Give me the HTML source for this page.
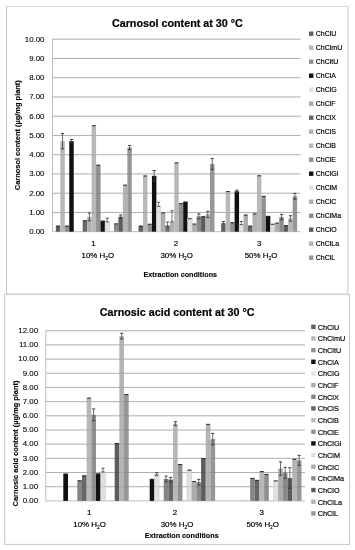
<!DOCTYPE html>
<html><head><meta charset="utf-8"><style>
html,body{margin:0;padding:0;background:#fff;}
body{width:355px;height:550px;overflow:hidden;}
svg{display:block;font-family:'Liberation Sans',sans-serif;will-change:transform;-webkit-font-smoothing:antialiased;}
</style></head><body>
<svg width="355" height="550" viewBox="0 0 355 550" style="font-family:'Liberation Sans',sans-serif">
<rect width="355" height="550" fill="#fff"/>
<line x1="6.5" y1="6.5" x2="347.9" y2="6.5" stroke="#d8d8d8" stroke-width="1"/>
<line x1="6.5" y1="6.0" x2="6.5" y2="294.5" stroke="#c6c6c6" stroke-width="1"/>
<line x1="347.9" y1="6.0" x2="347.9" y2="294.5" stroke="#c6c6c6" stroke-width="1"/>
<line x1="6.5" y1="294.0" x2="347.9" y2="294.0" stroke="#c6c6c6" stroke-width="1"/>
<line x1="4.7" y1="294.6" x2="349.5" y2="294.6" stroke="#d0d0d0" stroke-width="1"/>
<line x1="4.7" y1="294.1" x2="4.7" y2="544.9" stroke="#c6c6c6" stroke-width="1"/>
<line x1="349.5" y1="294.1" x2="349.5" y2="544.9" stroke="#c6c6c6" stroke-width="1"/>
<line x1="4.7" y1="544.4" x2="349.5" y2="544.4" stroke="#c6c6c6" stroke-width="1"/>
<line x1="52.50" y1="231.70" x2="300.50" y2="231.70" stroke="#bdbdbd" stroke-width="1"/>
<text x="44.50" y="234.00" text-anchor="end" font-size="7.9" fill="#000" stroke="#000" stroke-width="0.08">0.00</text>
<line x1="52.50" y1="212.45" x2="300.50" y2="212.45" stroke="#bdbdbd" stroke-width="1"/>
<text x="44.50" y="214.75" text-anchor="end" font-size="7.9" fill="#000" stroke="#000" stroke-width="0.08">1.00</text>
<line x1="52.50" y1="193.20" x2="300.50" y2="193.20" stroke="#bdbdbd" stroke-width="1"/>
<text x="44.50" y="195.50" text-anchor="end" font-size="7.9" fill="#000" stroke="#000" stroke-width="0.08">2.00</text>
<line x1="52.50" y1="173.95" x2="300.50" y2="173.95" stroke="#bdbdbd" stroke-width="1"/>
<text x="44.50" y="176.25" text-anchor="end" font-size="7.9" fill="#000" stroke="#000" stroke-width="0.08">3.00</text>
<line x1="52.50" y1="154.70" x2="300.50" y2="154.70" stroke="#bdbdbd" stroke-width="1"/>
<text x="44.50" y="157.00" text-anchor="end" font-size="7.9" fill="#000" stroke="#000" stroke-width="0.08">4.00</text>
<line x1="52.50" y1="135.45" x2="300.50" y2="135.45" stroke="#bdbdbd" stroke-width="1"/>
<text x="44.50" y="137.75" text-anchor="end" font-size="7.9" fill="#000" stroke="#000" stroke-width="0.08">5.00</text>
<line x1="52.50" y1="116.20" x2="300.50" y2="116.20" stroke="#bdbdbd" stroke-width="1"/>
<text x="44.50" y="118.50" text-anchor="end" font-size="7.9" fill="#000" stroke="#000" stroke-width="0.08">6.00</text>
<line x1="52.50" y1="96.95" x2="300.50" y2="96.95" stroke="#bdbdbd" stroke-width="1"/>
<text x="44.50" y="99.25" text-anchor="end" font-size="7.9" fill="#000" stroke="#000" stroke-width="0.08">7.00</text>
<line x1="52.50" y1="77.70" x2="300.50" y2="77.70" stroke="#bdbdbd" stroke-width="1"/>
<text x="44.50" y="80.00" text-anchor="end" font-size="7.9" fill="#000" stroke="#000" stroke-width="0.08">8.00</text>
<line x1="52.50" y1="58.45" x2="300.50" y2="58.45" stroke="#bdbdbd" stroke-width="1"/>
<text x="44.50" y="60.75" text-anchor="end" font-size="7.9" fill="#000" stroke="#000" stroke-width="0.08">9.00</text>
<line x1="52.50" y1="39.20" x2="300.50" y2="39.20" stroke="#bdbdbd" stroke-width="1"/>
<text x="44.50" y="41.50" text-anchor="end" font-size="7.9" fill="#000" stroke="#000" stroke-width="0.08">10.00</text>
<line x1="52.50" y1="39.20" x2="52.50" y2="231.70" stroke="#bdbdbd" stroke-width="1"/>
<rect x="55.85" y="225.73" width="4.47" height="5.97" fill="#5f5f5f"/>
<rect x="60.32" y="141.22" width="4.47" height="90.48" fill="#b8b8b8"/>
<rect x="64.79" y="225.73" width="4.47" height="5.97" fill="#8f8f8f"/>
<rect x="69.26" y="141.22" width="4.47" height="90.48" fill="#111111"/>
<rect x="82.66" y="220.34" width="4.47" height="11.36" fill="#666666"/>
<rect x="87.13" y="216.88" width="4.47" height="14.82" fill="#b0b0b0"/>
<rect x="91.60" y="125.25" width="4.47" height="106.45" fill="#b8b8b8"/>
<rect x="96.07" y="164.71" width="4.47" height="66.99" fill="#909090"/>
<rect x="100.54" y="220.73" width="4.47" height="10.97" fill="#111111"/>
<rect x="105.00" y="221.88" width="4.47" height="9.82" fill="#e0e0e0" stroke="#c6c6c6" stroke-width="0.5"/>
<rect x="113.94" y="223.42" width="4.47" height="8.28" fill="#8a8a8a"/>
<rect x="118.41" y="216.69" width="4.47" height="15.02" fill="#5c5c5c"/>
<rect x="122.88" y="184.73" width="4.47" height="46.97" fill="#b4b4b4"/>
<rect x="127.35" y="147.58" width="4.47" height="84.12" fill="#979797"/>
<rect x="138.52" y="225.73" width="4.47" height="5.97" fill="#5f5f5f"/>
<rect x="142.99" y="175.49" width="4.47" height="56.21" fill="#b8b8b8"/>
<rect x="147.45" y="223.81" width="4.47" height="7.89" fill="#8f8f8f"/>
<rect x="151.92" y="175.88" width="4.47" height="55.82" fill="#111111"/>
<rect x="156.39" y="206.48" width="4.47" height="25.22" fill="#e2e2e2" stroke="#c6c6c6" stroke-width="0.5"/>
<rect x="160.86" y="212.45" width="4.47" height="19.25" fill="#ababab"/>
<rect x="165.33" y="225.92" width="4.47" height="5.77" fill="#666666"/>
<rect x="169.80" y="221.69" width="4.47" height="10.01" fill="#b0b0b0"/>
<rect x="174.27" y="162.40" width="4.47" height="69.30" fill="#b8b8b8"/>
<rect x="178.73" y="203.21" width="4.47" height="28.49" fill="#909090"/>
<rect x="183.20" y="201.67" width="4.47" height="30.03" fill="#111111"/>
<rect x="187.67" y="218.22" width="4.47" height="13.47" fill="#e0e0e0" stroke="#c6c6c6" stroke-width="0.5"/>
<rect x="192.14" y="223.61" width="4.47" height="8.08" fill="#acacac"/>
<rect x="196.61" y="216.30" width="4.47" height="15.40" fill="#8a8a8a"/>
<rect x="201.08" y="216.30" width="4.47" height="15.40" fill="#5c5c5c"/>
<rect x="205.55" y="214.38" width="4.47" height="17.32" fill="#b4b4b4"/>
<rect x="210.01" y="163.94" width="4.47" height="67.76" fill="#979797"/>
<rect x="221.18" y="223.42" width="4.47" height="8.28" fill="#5f5f5f"/>
<rect x="225.65" y="191.08" width="4.47" height="40.62" fill="#b8b8b8"/>
<rect x="230.12" y="222.27" width="4.47" height="9.43" fill="#8f8f8f"/>
<rect x="234.59" y="191.27" width="4.47" height="40.43" fill="#111111"/>
<rect x="239.06" y="224.58" width="4.47" height="7.12" fill="#e2e2e2" stroke="#c6c6c6" stroke-width="0.5"/>
<rect x="243.53" y="214.57" width="4.47" height="17.13" fill="#ababab"/>
<rect x="248.00" y="225.73" width="4.47" height="5.97" fill="#666666"/>
<rect x="252.46" y="213.41" width="4.47" height="18.29" fill="#b0b0b0"/>
<rect x="256.93" y="175.30" width="4.47" height="56.40" fill="#b8b8b8"/>
<rect x="261.40" y="195.89" width="4.47" height="35.80" fill="#909090"/>
<rect x="265.87" y="215.91" width="4.47" height="15.78" fill="#111111"/>
<rect x="270.34" y="223.81" width="4.47" height="7.89" fill="#e0e0e0" stroke="#c6c6c6" stroke-width="0.5"/>
<rect x="274.81" y="222.65" width="4.47" height="9.05" fill="#acacac"/>
<rect x="279.27" y="217.07" width="4.47" height="14.63" fill="#8a8a8a"/>
<rect x="283.74" y="225.16" width="4.47" height="6.55" fill="#5c5c5c"/>
<rect x="288.21" y="218.42" width="4.47" height="13.28" fill="#b4b4b4"/>
<rect x="292.68" y="196.28" width="4.47" height="35.42" fill="#979797"/>
<line x1="52.50" y1="212.45" x2="300.50" y2="212.45" stroke="#000" stroke-opacity="0.07" stroke-width="1"/>
<line x1="52.50" y1="193.20" x2="300.50" y2="193.20" stroke="#000" stroke-opacity="0.07" stroke-width="1"/>
<line x1="52.50" y1="173.95" x2="300.50" y2="173.95" stroke="#000" stroke-opacity="0.07" stroke-width="1"/>
<line x1="52.50" y1="154.70" x2="300.50" y2="154.70" stroke="#000" stroke-opacity="0.07" stroke-width="1"/>
<line x1="52.50" y1="135.45" x2="300.50" y2="135.45" stroke="#000" stroke-opacity="0.07" stroke-width="1"/>
<line x1="52.50" y1="116.20" x2="300.50" y2="116.20" stroke="#000" stroke-opacity="0.07" stroke-width="1"/>
<line x1="52.50" y1="96.95" x2="300.50" y2="96.95" stroke="#000" stroke-opacity="0.07" stroke-width="1"/>
<line x1="52.50" y1="77.70" x2="300.50" y2="77.70" stroke="#000" stroke-opacity="0.07" stroke-width="1"/>
<line x1="52.50" y1="58.45" x2="300.50" y2="58.45" stroke="#000" stroke-opacity="0.07" stroke-width="1"/>
<line x1="52.50" y1="39.20" x2="300.50" y2="39.20" stroke="#000" stroke-opacity="0.07" stroke-width="1"/>
<line x1="56.35" y1="226.23" x2="59.82" y2="226.23" stroke="#2a2a2a" stroke-width="1.0"/>
<line x1="62.55" y1="133.52" x2="62.55" y2="148.92" stroke="#444" stroke-width="0.8"/>
<line x1="60.95" y1="133.52" x2="64.15" y2="133.52" stroke="#333" stroke-width="0.9"/>
<line x1="60.95" y1="148.92" x2="64.15" y2="148.92" stroke="#333" stroke-width="0.9"/>
<line x1="65.29" y1="226.23" x2="68.76" y2="226.23" stroke="#2a2a2a" stroke-width="1.0"/>
<line x1="71.49" y1="139.49" x2="71.49" y2="142.96" stroke="#444" stroke-width="0.8"/>
<line x1="69.89" y1="139.49" x2="73.09" y2="139.49" stroke="#333" stroke-width="0.9"/>
<line x1="69.89" y1="142.96" x2="73.09" y2="142.96" stroke="#333" stroke-width="0.9"/>
<line x1="83.16" y1="220.84" x2="86.63" y2="220.84" stroke="#2a2a2a" stroke-width="1.0"/>
<line x1="89.36" y1="213.03" x2="89.36" y2="220.73" stroke="#444" stroke-width="0.8"/>
<line x1="87.76" y1="213.03" x2="90.96" y2="213.03" stroke="#333" stroke-width="0.9"/>
<line x1="87.76" y1="220.73" x2="90.96" y2="220.73" stroke="#333" stroke-width="0.9"/>
<line x1="92.10" y1="125.75" x2="95.57" y2="125.75" stroke="#2a2a2a" stroke-width="1.0"/>
<line x1="96.57" y1="165.21" x2="100.04" y2="165.21" stroke="#2a2a2a" stroke-width="1.0"/>
<line x1="101.04" y1="221.23" x2="104.50" y2="221.23" stroke="#2a2a2a" stroke-width="1.0"/>
<line x1="107.24" y1="218.22" x2="107.24" y2="221.88" stroke="#555" stroke-width="0.8"/>
<line x1="105.74" y1="218.22" x2="108.74" y2="218.22" stroke="#444" stroke-width="0.9"/>
<line x1="105.74" y1="221.88" x2="108.74" y2="221.88" stroke="#444" stroke-width="0.9"/>
<line x1="114.44" y1="223.92" x2="117.91" y2="223.92" stroke="#2a2a2a" stroke-width="1.0"/>
<line x1="120.64" y1="214.95" x2="120.64" y2="218.42" stroke="#444" stroke-width="0.8"/>
<line x1="119.04" y1="214.95" x2="122.24" y2="214.95" stroke="#333" stroke-width="0.9"/>
<line x1="119.04" y1="218.42" x2="122.24" y2="218.42" stroke="#333" stroke-width="0.9"/>
<line x1="123.38" y1="185.23" x2="126.85" y2="185.23" stroke="#2a2a2a" stroke-width="1.0"/>
<line x1="129.58" y1="145.46" x2="129.58" y2="149.69" stroke="#444" stroke-width="0.8"/>
<line x1="127.98" y1="145.46" x2="131.18" y2="145.46" stroke="#333" stroke-width="0.9"/>
<line x1="127.98" y1="149.69" x2="131.18" y2="149.69" stroke="#333" stroke-width="0.9"/>
<line x1="139.02" y1="226.23" x2="142.49" y2="226.23" stroke="#2a2a2a" stroke-width="1.0"/>
<line x1="143.49" y1="175.99" x2="146.95" y2="175.99" stroke="#2a2a2a" stroke-width="1.0"/>
<line x1="147.95" y1="224.31" x2="151.42" y2="224.31" stroke="#2a2a2a" stroke-width="1.0"/>
<line x1="154.16" y1="170.49" x2="154.16" y2="181.26" stroke="#444" stroke-width="0.8"/>
<line x1="152.56" y1="170.49" x2="155.76" y2="170.49" stroke="#333" stroke-width="0.9"/>
<line x1="152.56" y1="181.26" x2="155.76" y2="181.26" stroke="#333" stroke-width="0.9"/>
<line x1="158.63" y1="202.25" x2="158.63" y2="206.48" stroke="#555" stroke-width="0.8"/>
<line x1="157.13" y1="202.25" x2="160.13" y2="202.25" stroke="#444" stroke-width="0.9"/>
<line x1="157.13" y1="206.48" x2="160.13" y2="206.48" stroke="#444" stroke-width="0.9"/>
<line x1="161.36" y1="212.95" x2="164.83" y2="212.95" stroke="#2a2a2a" stroke-width="1.0"/>
<line x1="167.56" y1="222.07" x2="167.56" y2="225.92" stroke="#555" stroke-width="0.8"/>
<line x1="166.06" y1="222.07" x2="169.06" y2="222.07" stroke="#444" stroke-width="0.9"/>
<line x1="166.06" y1="225.92" x2="169.06" y2="225.92" stroke="#444" stroke-width="0.9"/>
<line x1="172.03" y1="210.72" x2="172.03" y2="221.69" stroke="#555" stroke-width="0.8"/>
<line x1="170.53" y1="210.72" x2="173.53" y2="210.72" stroke="#444" stroke-width="0.9"/>
<line x1="170.53" y1="221.69" x2="173.53" y2="221.69" stroke="#444" stroke-width="0.9"/>
<line x1="174.77" y1="162.90" x2="178.23" y2="162.90" stroke="#2a2a2a" stroke-width="1.0"/>
<line x1="179.23" y1="203.71" x2="182.70" y2="203.71" stroke="#2a2a2a" stroke-width="1.0"/>
<line x1="183.70" y1="202.17" x2="187.17" y2="202.17" stroke="#2a2a2a" stroke-width="1.0"/>
<line x1="188.17" y1="218.72" x2="191.64" y2="218.72" stroke="#2a2a2a" stroke-width="1.0"/>
<line x1="192.64" y1="224.11" x2="196.11" y2="224.11" stroke="#2a2a2a" stroke-width="1.0"/>
<line x1="198.84" y1="213.80" x2="198.84" y2="218.80" stroke="#444" stroke-width="0.8"/>
<line x1="197.24" y1="213.80" x2="200.44" y2="213.80" stroke="#333" stroke-width="0.9"/>
<line x1="197.24" y1="218.80" x2="200.44" y2="218.80" stroke="#333" stroke-width="0.9"/>
<line x1="201.58" y1="216.80" x2="205.05" y2="216.80" stroke="#2a2a2a" stroke-width="1.0"/>
<line x1="207.78" y1="211.29" x2="207.78" y2="217.46" stroke="#444" stroke-width="0.8"/>
<line x1="206.18" y1="211.29" x2="209.38" y2="211.29" stroke="#333" stroke-width="0.9"/>
<line x1="206.18" y1="217.46" x2="209.38" y2="217.46" stroke="#333" stroke-width="0.9"/>
<line x1="212.25" y1="158.55" x2="212.25" y2="169.33" stroke="#444" stroke-width="0.8"/>
<line x1="210.65" y1="158.55" x2="213.85" y2="158.55" stroke="#333" stroke-width="0.9"/>
<line x1="210.65" y1="169.33" x2="213.85" y2="169.33" stroke="#333" stroke-width="0.9"/>
<line x1="223.42" y1="221.50" x2="223.42" y2="223.42" stroke="#555" stroke-width="0.8"/>
<line x1="221.92" y1="221.50" x2="224.92" y2="221.50" stroke="#444" stroke-width="0.9"/>
<line x1="221.92" y1="223.42" x2="224.92" y2="223.42" stroke="#444" stroke-width="0.9"/>
<line x1="226.15" y1="191.58" x2="229.62" y2="191.58" stroke="#2a2a2a" stroke-width="1.0"/>
<line x1="230.62" y1="222.77" x2="234.09" y2="222.77" stroke="#2a2a2a" stroke-width="1.0"/>
<line x1="236.82" y1="190.12" x2="236.82" y2="192.43" stroke="#444" stroke-width="0.8"/>
<line x1="235.22" y1="190.12" x2="238.42" y2="190.12" stroke="#333" stroke-width="0.9"/>
<line x1="235.22" y1="192.43" x2="238.42" y2="192.43" stroke="#333" stroke-width="0.9"/>
<line x1="241.29" y1="221.50" x2="241.29" y2="224.58" stroke="#555" stroke-width="0.8"/>
<line x1="239.79" y1="221.50" x2="242.79" y2="221.50" stroke="#444" stroke-width="0.9"/>
<line x1="239.79" y1="224.58" x2="242.79" y2="224.58" stroke="#444" stroke-width="0.9"/>
<line x1="244.03" y1="215.07" x2="247.50" y2="215.07" stroke="#2a2a2a" stroke-width="1.0"/>
<line x1="248.50" y1="226.23" x2="251.96" y2="226.23" stroke="#2a2a2a" stroke-width="1.0"/>
<line x1="252.96" y1="213.91" x2="256.43" y2="213.91" stroke="#2a2a2a" stroke-width="1.0"/>
<line x1="257.43" y1="175.80" x2="260.90" y2="175.80" stroke="#2a2a2a" stroke-width="1.0"/>
<line x1="261.90" y1="196.39" x2="265.37" y2="196.39" stroke="#2a2a2a" stroke-width="1.0"/>
<line x1="266.37" y1="216.41" x2="269.84" y2="216.41" stroke="#2a2a2a" stroke-width="1.0"/>
<line x1="270.84" y1="224.31" x2="274.31" y2="224.31" stroke="#2a2a2a" stroke-width="1.0"/>
<line x1="275.31" y1="223.15" x2="278.77" y2="223.15" stroke="#2a2a2a" stroke-width="1.0"/>
<line x1="281.51" y1="214.38" x2="281.51" y2="219.76" stroke="#444" stroke-width="0.8"/>
<line x1="279.91" y1="214.38" x2="283.11" y2="214.38" stroke="#333" stroke-width="0.9"/>
<line x1="279.91" y1="219.76" x2="283.11" y2="219.76" stroke="#333" stroke-width="0.9"/>
<line x1="284.24" y1="225.66" x2="287.71" y2="225.66" stroke="#2a2a2a" stroke-width="1.0"/>
<line x1="290.45" y1="215.72" x2="290.45" y2="221.11" stroke="#444" stroke-width="0.8"/>
<line x1="288.85" y1="215.72" x2="292.05" y2="215.72" stroke="#333" stroke-width="0.9"/>
<line x1="288.85" y1="221.11" x2="292.05" y2="221.11" stroke="#333" stroke-width="0.9"/>
<line x1="294.91" y1="193.39" x2="294.91" y2="199.17" stroke="#444" stroke-width="0.8"/>
<line x1="293.31" y1="193.39" x2="296.51" y2="193.39" stroke="#333" stroke-width="0.9"/>
<line x1="293.31" y1="199.17" x2="296.51" y2="199.17" stroke="#333" stroke-width="0.9"/>
<text x="93.50" y="245.50" text-anchor="middle" font-size="7.9" fill="#000" stroke="#000" stroke-width="0.18">1</text>
<text x="97.80" y="258.40" text-anchor="middle" font-size="7.9" fill="#000" stroke="#000" stroke-width="0.18">10% H<tspan font-size="4.90" dy="1.6">2</tspan><tspan dy="-1.6">O</tspan></text>
<text x="176.00" y="245.50" text-anchor="middle" font-size="7.9" fill="#000" stroke="#000" stroke-width="0.18">2</text>
<text x="176.70" y="258.40" text-anchor="middle" font-size="7.9" fill="#000" stroke="#000" stroke-width="0.18">30% H<tspan font-size="4.90" dy="1.6">2</tspan><tspan dy="-1.6">O</tspan></text>
<text x="259.20" y="245.50" text-anchor="middle" font-size="7.9" fill="#000" stroke="#000" stroke-width="0.18">3</text>
<text x="261.00" y="258.40" text-anchor="middle" font-size="7.9" fill="#000" stroke="#000" stroke-width="0.18">50% H<tspan font-size="4.90" dy="1.6">2</tspan><tspan dy="-1.6">O</tspan></text>
<text x="180.30" y="276.90" text-anchor="middle" font-size="7.2" font-weight="bold" fill="#000" stroke="#000" stroke-width="0.1">Extraction conditions</text>
<text x="177.40" y="27.30" text-anchor="middle" font-size="10.75" font-weight="bold" fill="#000" stroke="#000" stroke-width="0.2">Carnosol content at 30 °C</text>
<text transform="translate(20.40,135.20) rotate(-90)" text-anchor="middle" font-size="7.45" font-weight="bold" fill="#000" stroke="#000" stroke-width="0.12">Carnosol content (µg/mg plant)</text>
<rect x="309.00" y="31.50" width="4.4" height="4.4" fill="#5f5f5f"/>
<text x="315.80" y="36.40" font-size="7.5" textLength="20.61" lengthAdjust="spacingAndGlyphs" fill="#000" stroke="#000" stroke-width="0.18">ChClU</text>
<rect x="309.00" y="45.50" width="4.4" height="4.4" fill="#b8b8b8"/>
<text x="315.80" y="50.40" font-size="7.5" textLength="26.45" lengthAdjust="spacingAndGlyphs" fill="#000" stroke="#000" stroke-width="0.18">ChClmU</text>
<rect x="309.00" y="59.50" width="4.4" height="4.4" fill="#8f8f8f"/>
<text x="315.80" y="64.40" font-size="7.5" textLength="22.56" lengthAdjust="spacingAndGlyphs" fill="#000" stroke="#000" stroke-width="0.18">ChCltU</text>
<rect x="309.00" y="73.50" width="4.4" height="4.4" fill="#111111"/>
<text x="315.80" y="78.40" font-size="7.5" textLength="20.23" lengthAdjust="spacingAndGlyphs" fill="#000" stroke="#000" stroke-width="0.18">ChClA</text>
<rect x="309.00" y="87.50" width="4.4" height="4.4" fill="#e2e2e2"/>
<text x="315.80" y="92.40" font-size="7.5" textLength="21.00" lengthAdjust="spacingAndGlyphs" fill="#000" stroke="#000" stroke-width="0.18">ChClG</text>
<rect x="309.00" y="101.50" width="4.4" height="4.4" fill="#ababab"/>
<text x="315.80" y="106.40" font-size="7.5" textLength="19.83" lengthAdjust="spacingAndGlyphs" fill="#000" stroke="#000" stroke-width="0.18">ChClF</text>
<rect x="309.00" y="115.50" width="4.4" height="4.4" fill="#666666"/>
<text x="315.80" y="120.40" font-size="7.5" textLength="20.23" lengthAdjust="spacingAndGlyphs" fill="#000" stroke="#000" stroke-width="0.18">ChClX</text>
<rect x="309.00" y="129.50" width="4.4" height="4.4" fill="#b0b0b0"/>
<text x="315.80" y="134.40" font-size="7.5" textLength="20.23" lengthAdjust="spacingAndGlyphs" fill="#000" stroke="#000" stroke-width="0.18">ChClS</text>
<rect x="309.00" y="143.50" width="4.4" height="4.4" fill="#b8b8b8"/>
<text x="315.80" y="148.40" font-size="7.5" textLength="20.23" lengthAdjust="spacingAndGlyphs" fill="#000" stroke="#000" stroke-width="0.18">ChClB</text>
<rect x="309.00" y="157.50" width="4.4" height="4.4" fill="#909090"/>
<text x="315.80" y="162.40" font-size="7.5" textLength="20.23" lengthAdjust="spacingAndGlyphs" fill="#000" stroke="#000" stroke-width="0.18">ChClE</text>
<rect x="309.00" y="171.50" width="4.4" height="4.4" fill="#111111"/>
<text x="315.80" y="176.40" font-size="7.5" textLength="22.56" lengthAdjust="spacingAndGlyphs" fill="#000" stroke="#000" stroke-width="0.18">ChClGl</text>
<rect x="309.00" y="185.50" width="4.4" height="4.4" fill="#e0e0e0"/>
<text x="315.80" y="190.40" font-size="7.5" textLength="21.39" lengthAdjust="spacingAndGlyphs" fill="#000" stroke="#000" stroke-width="0.18">ChClM</text>
<rect x="309.00" y="199.50" width="4.4" height="4.4" fill="#acacac"/>
<text x="315.80" y="204.40" font-size="7.5" textLength="20.61" lengthAdjust="spacingAndGlyphs" fill="#000" stroke="#000" stroke-width="0.18">ChClC</text>
<rect x="309.00" y="213.50" width="4.4" height="4.4" fill="#8a8a8a"/>
<text x="315.80" y="218.40" font-size="7.5" textLength="25.28" lengthAdjust="spacingAndGlyphs" fill="#000" stroke="#000" stroke-width="0.18">ChClMa</text>
<rect x="309.00" y="227.50" width="4.4" height="4.4" fill="#5c5c5c"/>
<text x="315.80" y="232.40" font-size="7.5" textLength="21.00" lengthAdjust="spacingAndGlyphs" fill="#000" stroke="#000" stroke-width="0.18">ChClO</text>
<rect x="309.00" y="241.50" width="4.4" height="4.4" fill="#b4b4b4"/>
<text x="315.80" y="246.40" font-size="7.5" textLength="23.34" lengthAdjust="spacingAndGlyphs" fill="#000" stroke="#000" stroke-width="0.18">ChClLa</text>
<rect x="309.00" y="255.50" width="4.4" height="4.4" fill="#979797"/>
<text x="315.80" y="260.40" font-size="7.5" textLength="19.45" lengthAdjust="spacingAndGlyphs" fill="#000" stroke="#000" stroke-width="0.18">ChClL</text>
<line x1="45.80" y1="500.90" x2="305.00" y2="500.90" stroke="#bdbdbd" stroke-width="1"/>
<text x="38.10" y="503.20" text-anchor="end" font-size="7.9" fill="#000" stroke="#000" stroke-width="0.08">0.00</text>
<line x1="45.80" y1="486.72" x2="305.00" y2="486.72" stroke="#bdbdbd" stroke-width="1"/>
<text x="38.10" y="489.02" text-anchor="end" font-size="7.9" fill="#000" stroke="#000" stroke-width="0.08">1.00</text>
<line x1="45.80" y1="472.54" x2="305.00" y2="472.54" stroke="#bdbdbd" stroke-width="1"/>
<text x="38.10" y="474.84" text-anchor="end" font-size="7.9" fill="#000" stroke="#000" stroke-width="0.08">2.00</text>
<line x1="45.80" y1="458.36" x2="305.00" y2="458.36" stroke="#bdbdbd" stroke-width="1"/>
<text x="38.10" y="460.66" text-anchor="end" font-size="7.9" fill="#000" stroke="#000" stroke-width="0.08">3.00</text>
<line x1="45.80" y1="444.18" x2="305.00" y2="444.18" stroke="#bdbdbd" stroke-width="1"/>
<text x="38.10" y="446.48" text-anchor="end" font-size="7.9" fill="#000" stroke="#000" stroke-width="0.08">4.00</text>
<line x1="45.80" y1="430.00" x2="305.00" y2="430.00" stroke="#bdbdbd" stroke-width="1"/>
<text x="38.10" y="432.30" text-anchor="end" font-size="7.9" fill="#000" stroke="#000" stroke-width="0.08">5.00</text>
<line x1="45.80" y1="415.82" x2="305.00" y2="415.82" stroke="#bdbdbd" stroke-width="1"/>
<text x="38.10" y="418.12" text-anchor="end" font-size="7.9" fill="#000" stroke="#000" stroke-width="0.08">6.00</text>
<line x1="45.80" y1="401.64" x2="305.00" y2="401.64" stroke="#bdbdbd" stroke-width="1"/>
<text x="38.10" y="403.94" text-anchor="end" font-size="7.9" fill="#000" stroke="#000" stroke-width="0.08">7.00</text>
<line x1="45.80" y1="387.46" x2="305.00" y2="387.46" stroke="#bdbdbd" stroke-width="1"/>
<text x="38.10" y="389.76" text-anchor="end" font-size="7.9" fill="#000" stroke="#000" stroke-width="0.08">8.00</text>
<line x1="45.80" y1="373.28" x2="305.00" y2="373.28" stroke="#bdbdbd" stroke-width="1"/>
<text x="38.10" y="375.58" text-anchor="end" font-size="7.9" fill="#000" stroke="#000" stroke-width="0.08">9.00</text>
<line x1="45.80" y1="359.10" x2="305.00" y2="359.10" stroke="#bdbdbd" stroke-width="1"/>
<text x="38.10" y="361.40" text-anchor="end" font-size="7.9" fill="#000" stroke="#000" stroke-width="0.08">10.00</text>
<line x1="45.80" y1="344.92" x2="305.00" y2="344.92" stroke="#bdbdbd" stroke-width="1"/>
<text x="38.10" y="347.22" text-anchor="end" font-size="7.9" fill="#000" stroke="#000" stroke-width="0.08">11.00</text>
<line x1="45.80" y1="330.74" x2="305.00" y2="330.74" stroke="#bdbdbd" stroke-width="1"/>
<text x="38.10" y="333.04" text-anchor="end" font-size="7.9" fill="#000" stroke="#000" stroke-width="0.08">12.00</text>
<line x1="45.80" y1="330.74" x2="45.80" y2="500.90" stroke="#bdbdbd" stroke-width="1"/>
<rect x="63.31" y="473.67" width="4.67" height="27.23" fill="#111111"/>
<rect x="77.32" y="480.34" width="4.67" height="20.56" fill="#858585"/>
<rect x="81.99" y="475.38" width="4.67" height="25.52" fill="#666666"/>
<rect x="86.66" y="397.67" width="4.67" height="103.23" fill="#b8b8b8"/>
<rect x="91.34" y="414.83" width="4.67" height="86.07" fill="#909090"/>
<rect x="96.01" y="473.53" width="4.67" height="27.37" fill="#111111"/>
<rect x="100.68" y="471.97" width="4.67" height="28.93" fill="#e0e0e0" stroke="#c6c6c6" stroke-width="0.5"/>
<rect x="114.69" y="443.05" width="4.67" height="57.85" fill="#5c5c5c"/>
<rect x="119.36" y="336.13" width="4.67" height="164.77" fill="#b4b4b4"/>
<rect x="124.03" y="394.12" width="4.67" height="106.78" fill="#979797"/>
<rect x="149.71" y="478.92" width="4.67" height="21.98" fill="#111111"/>
<rect x="154.38" y="474.24" width="4.67" height="26.66" fill="#e2e2e2" stroke="#c6c6c6" stroke-width="0.5"/>
<rect x="163.72" y="478.92" width="4.67" height="21.98" fill="#858585"/>
<rect x="168.39" y="479.63" width="4.67" height="21.27" fill="#666666"/>
<rect x="173.06" y="423.62" width="4.67" height="77.28" fill="#b8b8b8"/>
<rect x="177.74" y="464.03" width="4.67" height="36.87" fill="#909090"/>
<rect x="187.08" y="469.70" width="4.67" height="31.20" fill="#e0e0e0" stroke="#c6c6c6" stroke-width="0.5"/>
<rect x="191.75" y="481.05" width="4.67" height="19.85" fill="#acacac"/>
<rect x="196.42" y="482.18" width="4.67" height="18.72" fill="#8a8a8a"/>
<rect x="201.09" y="458.08" width="4.67" height="42.82" fill="#5c5c5c"/>
<rect x="205.76" y="423.90" width="4.67" height="77.00" fill="#b4b4b4"/>
<rect x="210.43" y="439.08" width="4.67" height="61.82" fill="#979797"/>
<rect x="240.78" y="500.47" width="4.67" height="0.43" fill="#e2e2e2" stroke="#c6c6c6" stroke-width="0.5"/>
<rect x="250.12" y="477.93" width="4.67" height="22.97" fill="#858585"/>
<rect x="254.79" y="479.91" width="4.67" height="20.99" fill="#666666"/>
<rect x="259.46" y="471.12" width="4.67" height="29.78" fill="#b8b8b8"/>
<rect x="264.14" y="473.96" width="4.67" height="26.94" fill="#909090"/>
<rect x="273.48" y="480.48" width="4.67" height="20.42" fill="#e0e0e0" stroke="#c6c6c6" stroke-width="0.5"/>
<rect x="278.15" y="468.57" width="4.67" height="32.33" fill="#acacac"/>
<rect x="282.82" y="472.82" width="4.67" height="28.08" fill="#8a8a8a"/>
<rect x="287.49" y="478.07" width="4.67" height="22.83" fill="#5c5c5c"/>
<rect x="292.16" y="458.79" width="4.67" height="42.11" fill="#b4b4b4"/>
<rect x="296.83" y="460.35" width="4.67" height="40.55" fill="#979797"/>
<line x1="45.80" y1="486.72" x2="305.00" y2="486.72" stroke="#000" stroke-opacity="0.07" stroke-width="1"/>
<line x1="45.80" y1="472.54" x2="305.00" y2="472.54" stroke="#000" stroke-opacity="0.07" stroke-width="1"/>
<line x1="45.80" y1="458.36" x2="305.00" y2="458.36" stroke="#000" stroke-opacity="0.07" stroke-width="1"/>
<line x1="45.80" y1="444.18" x2="305.00" y2="444.18" stroke="#000" stroke-opacity="0.07" stroke-width="1"/>
<line x1="45.80" y1="430.00" x2="305.00" y2="430.00" stroke="#000" stroke-opacity="0.07" stroke-width="1"/>
<line x1="45.80" y1="415.82" x2="305.00" y2="415.82" stroke="#000" stroke-opacity="0.07" stroke-width="1"/>
<line x1="45.80" y1="401.64" x2="305.00" y2="401.64" stroke="#000" stroke-opacity="0.07" stroke-width="1"/>
<line x1="45.80" y1="387.46" x2="305.00" y2="387.46" stroke="#000" stroke-opacity="0.07" stroke-width="1"/>
<line x1="45.80" y1="373.28" x2="305.00" y2="373.28" stroke="#000" stroke-opacity="0.07" stroke-width="1"/>
<line x1="45.80" y1="359.10" x2="305.00" y2="359.10" stroke="#000" stroke-opacity="0.07" stroke-width="1"/>
<line x1="45.80" y1="344.92" x2="305.00" y2="344.92" stroke="#000" stroke-opacity="0.07" stroke-width="1"/>
<line x1="45.80" y1="330.74" x2="305.00" y2="330.74" stroke="#000" stroke-opacity="0.07" stroke-width="1"/>
<line x1="63.81" y1="474.17" x2="67.48" y2="474.17" stroke="#2a2a2a" stroke-width="1.0"/>
<line x1="77.82" y1="480.84" x2="81.49" y2="480.84" stroke="#2a2a2a" stroke-width="1.0"/>
<line x1="82.49" y1="475.88" x2="86.16" y2="475.88" stroke="#2a2a2a" stroke-width="1.0"/>
<line x1="87.16" y1="398.17" x2="90.84" y2="398.17" stroke="#2a2a2a" stroke-width="1.0"/>
<line x1="93.67" y1="408.87" x2="93.67" y2="420.78" stroke="#444" stroke-width="0.8"/>
<line x1="92.07" y1="408.87" x2="95.27" y2="408.87" stroke="#333" stroke-width="0.9"/>
<line x1="92.07" y1="420.78" x2="95.27" y2="420.78" stroke="#333" stroke-width="0.9"/>
<line x1="96.51" y1="474.03" x2="100.18" y2="474.03" stroke="#2a2a2a" stroke-width="1.0"/>
<line x1="103.01" y1="468.29" x2="103.01" y2="471.97" stroke="#555" stroke-width="0.8"/>
<line x1="101.51" y1="468.29" x2="104.51" y2="468.29" stroke="#444" stroke-width="0.9"/>
<line x1="101.51" y1="471.97" x2="104.51" y2="471.97" stroke="#444" stroke-width="0.9"/>
<line x1="115.19" y1="443.55" x2="118.86" y2="443.55" stroke="#2a2a2a" stroke-width="1.0"/>
<line x1="121.69" y1="333.29" x2="121.69" y2="338.96" stroke="#444" stroke-width="0.8"/>
<line x1="120.09" y1="333.29" x2="123.29" y2="333.29" stroke="#333" stroke-width="0.9"/>
<line x1="120.09" y1="338.96" x2="123.29" y2="338.96" stroke="#333" stroke-width="0.9"/>
<line x1="124.53" y1="394.62" x2="128.20" y2="394.62" stroke="#2a2a2a" stroke-width="1.0"/>
<line x1="150.21" y1="479.42" x2="153.88" y2="479.42" stroke="#2a2a2a" stroke-width="1.0"/>
<line x1="156.72" y1="472.82" x2="156.72" y2="475.66" stroke="#444" stroke-width="0.8"/>
<line x1="155.12" y1="472.82" x2="158.32" y2="472.82" stroke="#333" stroke-width="0.9"/>
<line x1="155.12" y1="475.66" x2="158.32" y2="475.66" stroke="#333" stroke-width="0.9"/>
<line x1="166.06" y1="476.08" x2="166.06" y2="481.76" stroke="#444" stroke-width="0.8"/>
<line x1="164.46" y1="476.08" x2="167.66" y2="476.08" stroke="#333" stroke-width="0.9"/>
<line x1="164.46" y1="481.76" x2="167.66" y2="481.76" stroke="#333" stroke-width="0.9"/>
<line x1="170.73" y1="477.36" x2="170.73" y2="481.90" stroke="#444" stroke-width="0.8"/>
<line x1="169.13" y1="477.36" x2="172.33" y2="477.36" stroke="#333" stroke-width="0.9"/>
<line x1="169.13" y1="481.90" x2="172.33" y2="481.90" stroke="#333" stroke-width="0.9"/>
<line x1="175.40" y1="421.63" x2="175.40" y2="425.60" stroke="#444" stroke-width="0.8"/>
<line x1="173.80" y1="421.63" x2="177.00" y2="421.63" stroke="#333" stroke-width="0.9"/>
<line x1="173.80" y1="425.60" x2="177.00" y2="425.60" stroke="#333" stroke-width="0.9"/>
<line x1="178.24" y1="464.53" x2="181.91" y2="464.53" stroke="#2a2a2a" stroke-width="1.0"/>
<line x1="187.58" y1="470.20" x2="191.25" y2="470.20" stroke="#2a2a2a" stroke-width="1.0"/>
<line x1="192.25" y1="481.55" x2="195.92" y2="481.55" stroke="#2a2a2a" stroke-width="1.0"/>
<line x1="198.75" y1="479.35" x2="198.75" y2="485.02" stroke="#444" stroke-width="0.8"/>
<line x1="197.15" y1="479.35" x2="200.35" y2="479.35" stroke="#333" stroke-width="0.9"/>
<line x1="197.15" y1="485.02" x2="200.35" y2="485.02" stroke="#333" stroke-width="0.9"/>
<line x1="201.59" y1="458.58" x2="205.26" y2="458.58" stroke="#2a2a2a" stroke-width="1.0"/>
<line x1="206.26" y1="424.40" x2="209.93" y2="424.40" stroke="#2a2a2a" stroke-width="1.0"/>
<line x1="212.76" y1="433.40" x2="212.76" y2="444.75" stroke="#444" stroke-width="0.8"/>
<line x1="211.16" y1="433.40" x2="214.36" y2="433.40" stroke="#333" stroke-width="0.9"/>
<line x1="211.16" y1="444.75" x2="214.36" y2="444.75" stroke="#333" stroke-width="0.9"/>
<line x1="250.62" y1="478.43" x2="254.29" y2="478.43" stroke="#2a2a2a" stroke-width="1.0"/>
<line x1="255.29" y1="480.41" x2="258.96" y2="480.41" stroke="#2a2a2a" stroke-width="1.0"/>
<line x1="259.96" y1="471.62" x2="263.64" y2="471.62" stroke="#2a2a2a" stroke-width="1.0"/>
<line x1="264.64" y1="474.46" x2="268.31" y2="474.46" stroke="#2a2a2a" stroke-width="1.0"/>
<line x1="273.98" y1="480.98" x2="277.65" y2="480.98" stroke="#2a2a2a" stroke-width="1.0"/>
<line x1="280.48" y1="461.90" x2="280.48" y2="475.23" stroke="#444" stroke-width="0.8"/>
<line x1="278.88" y1="461.90" x2="282.08" y2="461.90" stroke="#333" stroke-width="0.9"/>
<line x1="278.88" y1="475.23" x2="282.08" y2="475.23" stroke="#333" stroke-width="0.9"/>
<line x1="285.15" y1="467.44" x2="285.15" y2="478.21" stroke="#444" stroke-width="0.8"/>
<line x1="283.55" y1="467.44" x2="286.75" y2="467.44" stroke="#333" stroke-width="0.9"/>
<line x1="283.55" y1="478.21" x2="286.75" y2="478.21" stroke="#333" stroke-width="0.9"/>
<line x1="289.82" y1="467.72" x2="289.82" y2="488.42" stroke="#444" stroke-width="0.8"/>
<line x1="288.22" y1="467.72" x2="291.42" y2="467.72" stroke="#333" stroke-width="0.9"/>
<line x1="288.22" y1="488.42" x2="291.42" y2="488.42" stroke="#333" stroke-width="0.9"/>
<line x1="292.66" y1="459.29" x2="296.33" y2="459.29" stroke="#2a2a2a" stroke-width="1.0"/>
<line x1="299.16" y1="455.38" x2="299.16" y2="465.31" stroke="#444" stroke-width="0.8"/>
<line x1="297.56" y1="455.38" x2="300.76" y2="455.38" stroke="#333" stroke-width="0.9"/>
<line x1="297.56" y1="465.31" x2="300.76" y2="465.31" stroke="#333" stroke-width="0.9"/>
<text x="89.20" y="515.00" text-anchor="middle" font-size="7.9" fill="#000" stroke="#000" stroke-width="0.18">1</text>
<text x="89.60" y="527.00" text-anchor="middle" font-size="7.9" fill="#000" stroke="#000" stroke-width="0.18">10% H<tspan font-size="4.90" dy="1.6">2</tspan><tspan dy="-1.6">O</tspan></text>
<text x="174.90" y="515.00" text-anchor="middle" font-size="7.9" fill="#000" stroke="#000" stroke-width="0.18">2</text>
<text x="177.00" y="527.00" text-anchor="middle" font-size="7.9" fill="#000" stroke="#000" stroke-width="0.18">30% H<tspan font-size="4.90" dy="1.6">2</tspan><tspan dy="-1.6">O</tspan></text>
<text x="261.80" y="515.00" text-anchor="middle" font-size="7.9" fill="#000" stroke="#000" stroke-width="0.18">3</text>
<text x="262.70" y="527.00" text-anchor="middle" font-size="7.9" fill="#000" stroke="#000" stroke-width="0.18">50% H<tspan font-size="4.90" dy="1.6">2</tspan><tspan dy="-1.6">O</tspan></text>
<text x="181.70" y="538.00" text-anchor="middle" font-size="7.25" font-weight="bold" fill="#000" stroke="#000" stroke-width="0.1">Extraction conditions</text>
<text x="177.20" y="315.80" text-anchor="middle" font-size="10.75" font-weight="bold" fill="#000" stroke="#000" stroke-width="0.2">Carnosic acid content at 30 °C</text>
<text transform="translate(17.70,443.50) rotate(-90)" text-anchor="middle" font-size="7.4" font-weight="bold" fill="#000" stroke="#000" stroke-width="0.12">Carnosic acid content (µg/mg plant)</text>
<rect x="311.20" y="324.60" width="4.4" height="4.4" fill="#5f5f5f"/>
<text x="317.70" y="329.68" font-size="8.0" textLength="21.50" lengthAdjust="spacingAndGlyphs" fill="#000" stroke="#000" stroke-width="0.18">ChClU</text>
<rect x="311.20" y="336.26" width="4.4" height="4.4" fill="#b8b8b8"/>
<text x="317.70" y="341.34" font-size="8.0" textLength="27.58" lengthAdjust="spacingAndGlyphs" fill="#000" stroke="#000" stroke-width="0.18">ChClmU</text>
<rect x="311.20" y="347.92" width="4.4" height="4.4" fill="#8f8f8f"/>
<text x="317.70" y="353.00" font-size="8.0" textLength="23.53" lengthAdjust="spacingAndGlyphs" fill="#000" stroke="#000" stroke-width="0.18">ChCltU</text>
<rect x="311.20" y="359.58" width="4.4" height="4.4" fill="#111111"/>
<text x="317.70" y="364.66" font-size="8.0" textLength="21.09" lengthAdjust="spacingAndGlyphs" fill="#000" stroke="#000" stroke-width="0.18">ChClA</text>
<rect x="311.20" y="371.24" width="4.4" height="4.4" fill="#e2e2e2"/>
<text x="317.70" y="376.32" font-size="8.0" textLength="21.90" lengthAdjust="spacingAndGlyphs" fill="#000" stroke="#000" stroke-width="0.18">ChClG</text>
<rect x="311.20" y="382.90" width="4.4" height="4.4" fill="#ababab"/>
<text x="317.70" y="387.98" font-size="8.0" textLength="20.68" lengthAdjust="spacingAndGlyphs" fill="#000" stroke="#000" stroke-width="0.18">ChClF</text>
<rect x="311.20" y="394.56" width="4.4" height="4.4" fill="#858585"/>
<text x="317.70" y="399.64" font-size="8.0" textLength="21.09" lengthAdjust="spacingAndGlyphs" fill="#000" stroke="#000" stroke-width="0.18">ChClX</text>
<rect x="311.20" y="406.22" width="4.4" height="4.4" fill="#666666"/>
<text x="317.70" y="411.30" font-size="8.0" textLength="21.09" lengthAdjust="spacingAndGlyphs" fill="#000" stroke="#000" stroke-width="0.18">ChClS</text>
<rect x="311.20" y="417.88" width="4.4" height="4.4" fill="#b8b8b8"/>
<text x="317.70" y="422.96" font-size="8.0" textLength="21.09" lengthAdjust="spacingAndGlyphs" fill="#000" stroke="#000" stroke-width="0.18">ChClB</text>
<rect x="311.20" y="429.54" width="4.4" height="4.4" fill="#909090"/>
<text x="317.70" y="434.62" font-size="8.0" textLength="21.09" lengthAdjust="spacingAndGlyphs" fill="#000" stroke="#000" stroke-width="0.18">ChClE</text>
<rect x="311.20" y="441.20" width="4.4" height="4.4" fill="#111111"/>
<text x="317.70" y="446.28" font-size="8.0" textLength="23.53" lengthAdjust="spacingAndGlyphs" fill="#000" stroke="#000" stroke-width="0.18">ChClGl</text>
<rect x="311.20" y="452.86" width="4.4" height="4.4" fill="#e0e0e0"/>
<text x="317.70" y="457.94" font-size="8.0" textLength="22.31" lengthAdjust="spacingAndGlyphs" fill="#000" stroke="#000" stroke-width="0.18">ChClM</text>
<rect x="311.20" y="464.52" width="4.4" height="4.4" fill="#acacac"/>
<text x="317.70" y="469.60" font-size="8.0" textLength="21.50" lengthAdjust="spacingAndGlyphs" fill="#000" stroke="#000" stroke-width="0.18">ChClC</text>
<rect x="311.20" y="476.18" width="4.4" height="4.4" fill="#8a8a8a"/>
<text x="317.70" y="481.26" font-size="8.0" textLength="26.37" lengthAdjust="spacingAndGlyphs" fill="#000" stroke="#000" stroke-width="0.18">ChClMa</text>
<rect x="311.20" y="487.84" width="4.4" height="4.4" fill="#5c5c5c"/>
<text x="317.70" y="492.92" font-size="8.0" textLength="21.90" lengthAdjust="spacingAndGlyphs" fill="#000" stroke="#000" stroke-width="0.18">ChClO</text>
<rect x="311.20" y="499.50" width="4.4" height="4.4" fill="#b4b4b4"/>
<text x="317.70" y="504.58" font-size="8.0" textLength="24.35" lengthAdjust="spacingAndGlyphs" fill="#000" stroke="#000" stroke-width="0.18">ChClLa</text>
<rect x="311.20" y="511.16" width="4.4" height="4.4" fill="#979797"/>
<text x="317.70" y="516.24" font-size="8.0" textLength="20.29" lengthAdjust="spacingAndGlyphs" fill="#000" stroke="#000" stroke-width="0.18">ChClL</text>
</svg>
</body></html>
